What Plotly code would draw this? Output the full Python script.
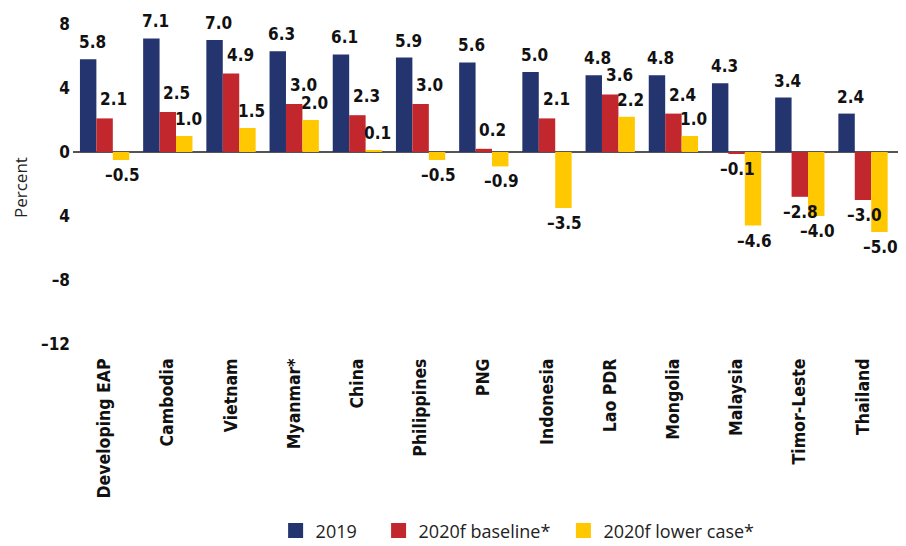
import plotly.graph_objects as go

categories = ["Developing EAP", "Cambodia", "Vietnam", "Myanmar*", "China", "Philippines",
              "PNG", "Indonesia", "Lao PDR", "Mongolia", "Malaysia", "Timor-Leste", "Thailand"]
v2019 = [5.8, 7.1, 7.0, 6.3, 6.1, 5.9, 5.6, 5.0, 4.8, 4.8, 4.3, 3.4, 2.4]
v2020_base = [2.1, 2.5, 4.9, 3.0, 2.3, 3.0, 0.2, 2.1, 3.6, 2.4, -0.1, -2.8, -3.0]
v2020_low = [-0.5, 1.0, 1.5, 2.0, 0.1, -0.5, -0.9, -3.5, 2.2, 1.0, -4.6, -4.0, -5.0]
series_names = ["2019", "2020f baseline*", "2020f lower case*"]
colors = ["#24346E", "#C1272D", "#FFC800"]
tick_vals = [8, 4, 0, -4, -8, -12]
tick_text = ["8", "4", "0", "4", "\u20138", "\u201312"]

BOLD = "DejaVu Sans Condensed, DejaVu Sans"
REG = "Open Sans, Noto Sans, sans-serif"

def bfont(size):
    return dict(family=BOLD, size=size, color="#111111", weight="bold")

fig = go.Figure()
all_series = [v2019, v2020_base, v2020_low]
for name, vals, col in zip(series_names, all_series, colors):
    fig.add_trace(go.Bar(x=categories, y=vals, name=name, marker_color=col,
                         marker_line_width=0, showlegend=False))

# legend proxies (larger square swatches), each in its own legend for spacing
legend_ids = ["legend", "legend2", "legend3"]
legend_x = [0.245, 0.3695, 0.593]
for name, col, lid in zip(series_names, colors, legend_ids):
    fig.add_trace(go.Scatter(x=[None], y=[None], mode="markers", name=name,
                             marker=dict(symbol="square", size=15, color=col),
                             showlegend=True, hoverinfo="skip", legend=lid))

def fmt(v):
    s = f"{abs(v):.1f}"
    return ("\u2013" + s) if v < 0 else s

bar_px = 16.5
pos_extra = [4, 9, 4]
pos_y = [17, 19, 17]
annotations = []
for i, vals in enumerate(all_series):
    for c, v in zip(categories, vals):
        if v >= 0:
            xs = (i - 1) * bar_px + pos_extra[i]
            ys = pos_y[i]
        else:
            xs = (i - 1) * bar_px + 1
            ys = -15
        annotations.append(dict(x=c, y=v, xref="x", yref="y", text=fmt(v), showarrow=False,
                                xshift=xs, yshift=ys, yanchor="middle", xanchor="center",
                                font=bfont(17)))

annotations.append(dict(x=(20 - 73) / 827, y=(344 - 188) / 320, xref="paper", yref="paper",
                        text="Percent", textangle=-90, showarrow=False,
                        xanchor="center", yanchor="middle",
                        font=dict(family=REG, size=17, color="#222222")))

legend_style = dict(orientation="h", xanchor="left", y=-0.584, yanchor="middle",
                    font=dict(family=REG, size=18, color="#222222"),
                    itemwidth=30, bgcolor="rgba(0,0,0,0)")

# page body has an 8px margin: figure is shifted by 8px right/down
fig.update_layout(
    width=898, height=538,
    margin=dict(l=65, r=6, t=16, b=202, autoexpand=False),
    paper_bgcolor="white", plot_bgcolor="white",
    barmode="group", bargap=0.22, bargroupgap=0,
    annotations=annotations,
    showlegend=True,
    legend=dict(x=legend_x[0], **legend_style),
    legend2=dict(x=legend_x[1], **legend_style),
    legend3=dict(x=legend_x[2], **legend_style),
    xaxis=dict(showgrid=False, showline=False, ticks="", tickangle=-90, automargin=False,
               tickfont=bfont(17.5), ticklabelstandoff=10),
    yaxis=dict(range=[-12, 8], showgrid=False, showline=False, zeroline=True,
               zerolinecolor="#555555", zerolinewidth=2, layer="above traces",
               automargin=False,
               tickmode="array", tickvals=tick_vals, ticktext=tick_text,
               tickfont=bfont(17), ticks="", ticklabelstandoff=2),
)

fig.write_html("out.html")
